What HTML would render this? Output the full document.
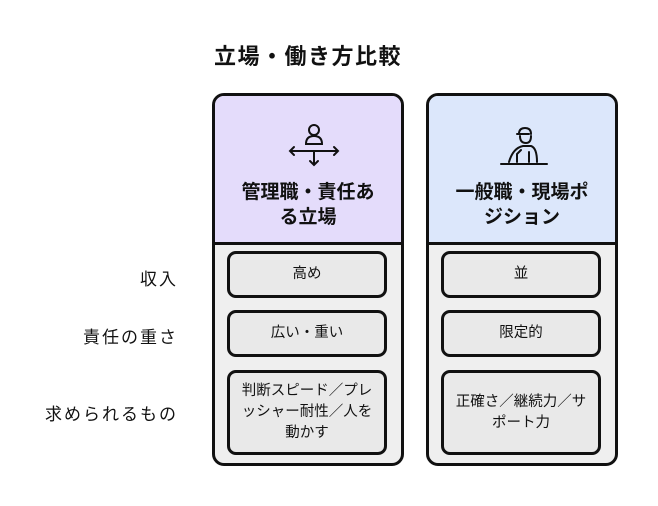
<!DOCTYPE html>
<html><head><meta charset="utf-8"><style>
body{margin:0;width:658px;height:506px;background:#fff;font-family:"Liberation Sans","Noto Sans CJK JP",sans-serif;position:relative;overflow:hidden}
.t{position:absolute;left:0;width:616px;top:39px;text-align:center;font-weight:bold;font-size:22px;letter-spacing:1.5px;color:#111}
.lab{position:absolute;right:480px;font-size:17px;letter-spacing:2px;color:#111;white-space:nowrap}
.col{position:absolute;top:93px;width:186px;height:367px;border:3px solid #111;border-radius:12px;background:#efefef;overflow:hidden}
.hd{position:absolute;left:0;top:0;width:186px;height:146px;border-bottom:3px solid #111}
.hd .n{position:absolute;top:84px;left:0;width:100%;text-align:center;font-weight:bold;font-size:19px;line-height:25px;color:#111}
.b{position:absolute;left:12px;width:154px;border:3px solid #111;border-radius:9px;background:#e9e9e9;display:flex;align-items:center;justify-content:center;text-align:center;font-size:14.5px;line-height:21px;color:#111}
</style></head><body>
<div class="t">立場・働き方比較</div>
<div class="lab" style="top:265px">収入</div>
<div class="lab" style="top:323px">責任の重さ</div>
<div class="lab" style="top:400px">求められるもの</div>

<div class="col" style="left:212px">
 <div class="hd" style="background:#e4dcfb">
  <svg width="186" height="80" style="position:absolute;left:0;top:0" fill="none" stroke="#111" stroke-width="2" stroke-linecap="round">
   <circle cx="99" cy="34" r="5"/><path d="M91 48 q0-8 8-8 q8 0 8 8z"/>
   <path d="M75 55 h48 M79 51 l-4 4 4 4 M119 51 l4 4 -4 4 M99 55 v14 M95 65 l4 4 4-4"/>
  </svg>
  <div class="n">管理職・責任あ<br>る立場</div>
 </div>
 <div class="b" style="top:155px;height:41px">高め</div>
 <div class="b" style="top:214px;height:41px">広い・重い</div>
 <div class="b" style="top:274px;height:79px">判断スピード／プレ<br>ッシャー耐性／人を<br>動かす</div>
</div>

<div class="col" style="left:426px">
 <div class="hd" style="background:#dce7fb">
  <svg width="186" height="80" style="position:absolute;left:0;top:0" fill="none" stroke="#111" stroke-width="2" stroke-linecap="round">
   <path d="M88 38 h12 M90 38 q0-6 6-6 q6 0 6 6 M91 40 q0 7 6 7 q5 0 5-7"/>
   <path d="M80 66 q4-14 14-16 h8 q6 2 6 16 M88 66 v-8 l4-4 M100 66 v-10"/>
   <path d="M72 68 h46"/>
  </svg>
  <div class="n">一般職・現場ポ<br>ジション</div>
 </div>
 <div class="b" style="top:155px;height:41px">並</div>
 <div class="b" style="top:214px;height:41px">限定的</div>
 <div class="b" style="top:274px;height:79px">正確さ／継続力／サ<br>ポート力</div>
</div>
</body></html>
